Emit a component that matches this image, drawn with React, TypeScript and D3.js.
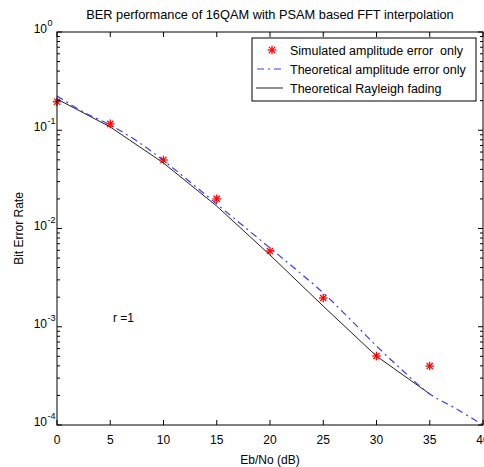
import React from "react";
import * as d3 from "d3";

const W = 484;
const H = 467;

const titleText = "BER performance of 16QAM with PSAM based FFT interpolation";
const xLabel = "Eb/No (dB)";
const yLabel = "Bit Error Rate";
const annotation = "r =1";

const xTicks = [0, 5, 10, 15, 20, 25, 30, 35, 40];
const yDecades = [0, -1, -2, -3, -4];

const legendLabels = [
  "Simulated amplitude error  only",
  "Theoretical amplitude error only",
  "Theoretical Rayleigh fading",
];

// Simulated amplitude error only (red * markers)
const simX = [0, 5, 10, 15, 20, 25, 30, 35];
const simY = [0.195, 0.116, 0.0498, 0.02, 0.0059, 0.00196, 0.000504, 0.000398];

// Theoretical amplitude error only (blue dash-dot)
const ampX = [0, 2.5, 5, 7.5, 10, 12.5, 15, 17.5, 20, 22.5, 25, 27.5, 30, 32.5, 35, 37.5, 40];
const ampY = [
  0.223, 0.153, 0.1128, 0.0776, 0.0492, 0.0297, 0.01775, 0.0106, 0.00633, 0.00378,
  0.00221, 0.0012, 0.000637, 0.000355, 0.000207, 0.000146, 0.0001,
];

// Theoretical Rayleigh fading (black solid)
const rayX = [0, 5, 10, 15, 20, 25, 30, 35];
const rayY = [0.208, 0.108, 0.0464, 0.0169, 0.00537, 0.00162, 0.000502, 0.000207];

const FONT = "'Liberation Sans', Arial, Helvetica, sans-serif";

function Star({ cx, cy, r = 4.3, color = "#ff0000" }) {
  const d = r * 0.72;
  return (
    <g stroke={color} strokeWidth={1.3}>
      <line x1={cx - r} y1={cy} x2={cx + r} y2={cy} />
      <line x1={cx} y1={cy - r} x2={cx} y2={cy + r} />
      <line x1={cx - d} y1={cy - d} x2={cx + d} y2={cy + d} />
      <line x1={cx - d} y1={cy + d} x2={cx + d} y2={cy - d} />
    </g>
  );
}

export default function App() {
  const left = 57, right = 483, top = 32, bottom = 425;
  const x = d3.scaleLinear().domain([0, 40]).range([left, right]);
  const y = d3.scaleLog().domain([1e-4, 1]).range([bottom, top]);

  const ampLine = d3
    .line<[number, number]>()
    .x((d) => x(d[0]))
    .y((d) => y(d[1]))
    .curve(d3.curveCatmullRom.alpha(0.5));
  const rayLine = d3
    .line<[number, number]>()
    .x((d) => x(d[0]))
    .y((d) => y(d[1]));

  const ampPath = ampLine(ampX.map((v, i) => [v, ampY[i]]));
  const rayPath = rayLine(rayX.map((v, i) => [v, rayY[i]]));

  const minor: number[] = [];
  for (let e = -4; e < 0; e++) {
    for (let k = 2; k <= 9; k++) minor.push(k * Math.pow(10, e));
  }

  const lgX = 252, lgY = 38, lgW = 224, lgH = 63;
  const rowY = [50, 69, 88];

  return (
    <svg
      width={W}
      height={H}
      style={{ position: "absolute", left: 0, top: 0, background: "#fff" }}
      fontFamily={FONT}
    >
      <rect x={0} y={0} width={W} height={H} fill="#fff" />
      {/* title */}
      <text x={270} y={19} textAnchor="middle" fontSize={12.8} fill="#000">
        {titleText}
      </text>

      {/* curves */}
      <path d={rayPath || ""} fill="none" stroke="#222" strokeWidth={1} />
      <path
        d={ampPath || ""}
        fill="none"
        stroke="#3a3aff"
        strokeWidth={1.2}
        strokeDasharray="7,4,2,4"
      />
      {simX.map((v, i) => (
        <Star key={i} cx={x(v)} cy={y(simY[i])} />
      ))}

      {/* axes box */}
      <rect x={left} y={top} width={right - left} height={bottom - top} fill="none" stroke="#000" strokeWidth={1} />

      {/* x ticks */}
      {xTicks.map((t) => (
        <g key={"xt" + t}>
          <line x1={x(t)} x2={x(t)} y1={bottom} y2={bottom - 5} stroke="#000" />
          <line x1={x(t)} x2={x(t)} y1={top} y2={top + 5} stroke="#000" />
          <text x={x(t)} y={444} textAnchor="middle" fontSize={12} fill="#000">
            {t}
          </text>
        </g>
      ))}

      {/* y ticks */}
      {yDecades.map((e) => {
        const yy = y(Math.pow(10, e));
        return (
          <g key={"yt" + e}>
            <line x1={left} x2={left + 5} y1={yy} y2={yy} stroke="#000" />
            <line x1={right} x2={right - 5} y1={yy} y2={yy} stroke="#000" />
            <text x={47} y={yy + 1} textAnchor="end" fontSize={12} fill="#000">
              10
            </text>
            <text x={47.5} y={yy - 6} textAnchor="start" fontSize={9} fill="#000">
              {e}
            </text>
          </g>
        );
      })}
      {minor.map((v, i) => (
        <g key={"mn" + i}>
          <line x1={left} x2={left + 3} y1={y(v)} y2={y(v)} stroke="#000" />
          <line x1={right} x2={right - 3} y1={y(v)} y2={y(v)} stroke="#000" />
        </g>
      ))}

      {/* axis labels */}
      <text x={270} y={464} textAnchor="middle" fontSize={12} fill="#000">
        {xLabel}
      </text>
      <text
        transform={`translate(23, ${(top + bottom) / 2}) rotate(-90)`}
        textAnchor="middle"
        fontSize={12}
        fill="#000"
      >
        {yLabel}
      </text>

      {/* annotation */}
      <text x={113} y={322} fontSize={12} fill="#000">
        {annotation}
      </text>

      {/* legend */}
      <rect x={lgX} y={lgY} width={lgW} height={lgH} fill="#fff" stroke="#000" strokeWidth={1} />
      <Star cx={272} cy={rowY[0]} />
      <line x1={257} x2={283} y1={rowY[1]} y2={rowY[1]} stroke="#3a3aff" strokeWidth={1.2} strokeDasharray="7,4,2,4" />
      <line x1={256} x2={283} y1={rowY[2]} y2={rowY[2]} stroke="#222" strokeWidth={1} />
      {legendLabels.map((l, i) => (
        <text key={l} x={290} y={rowY[i] + 4.5} fontSize={12.5} fill="#000" xmlSpace="preserve">
          {l}
        </text>
      ))}
    </svg>
  );
}
